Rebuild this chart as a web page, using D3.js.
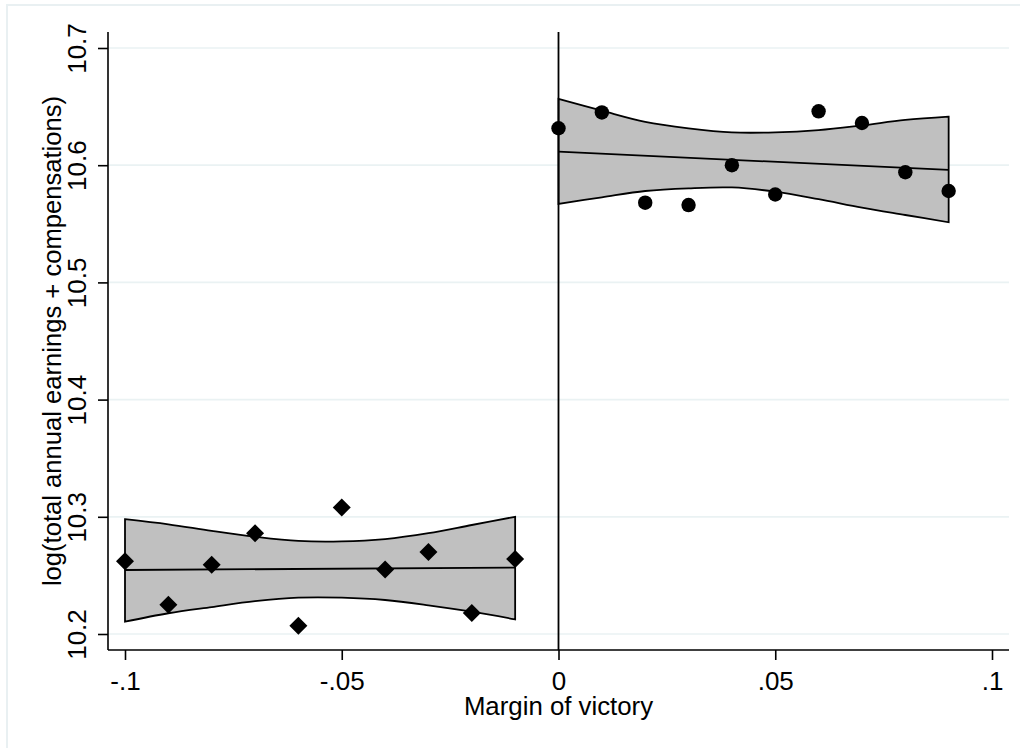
<!DOCTYPE html>
<html>
<head>
<meta charset="utf-8">
<script src="https://cdn.jsdelivr.net/npm/d3@7"></script>
<style>
  body { margin: 0; background: #fff; }
  text { font-family: "Liberation Sans", Arial, sans-serif; fill: #000; }
</style>
</head>
<body>
<div class="chart"></div>
<script>
// values
var xTicks = [-0.1, -0.05, 0, 0.05, 0.1];
var xTickLabels = ["-.1", "-.05", "0", ".05", ".1"];
var yTicks = [10.2, 10.3, 10.4, 10.5, 10.6, 10.7];
var yTickLabels = ["10.2", "10.3", "10.4", "10.5", "10.6", "10.7"];

// losers (diamonds), margin < 0
var leftX = [-0.1, -0.09, -0.08, -0.07, -0.06, -0.05, -0.04, -0.03, -0.02, -0.01];
var leftY = [10.262, 10.225, 10.259, 10.286, 10.207, 10.308, 10.255, 10.270, 10.218, 10.264];
var leftFit = [10.2546, 10.2566];           // at -0.1 and -0.01
var leftUpper = [10.298, 10.2936, 10.288, 10.283, 10.2794, 10.279, 10.281, 10.286, 10.293, 10.300];
var leftLower = [10.2105, 10.2177, 10.223, 10.228, 10.231, 10.231, 10.229, 10.2245, 10.219, 10.2125];

// winners (circles), margin >= 0
var rightX = [0, 0.01, 0.02, 0.03, 0.04, 0.05, 0.06, 0.07, 0.08, 0.09];
var rightY = [10.6315, 10.645, 10.568, 10.566, 10.600, 10.575, 10.646, 10.636, 10.594, 10.578];
var rightFit = [10.6115, 10.596];           // at 0 and 0.09
var rightUpper = [10.6565, 10.6465, 10.637, 10.6315, 10.628, 10.628, 10.630, 10.634, 10.6386, 10.6414];
var rightLower = [10.567, 10.5726, 10.578, 10.5803, 10.581, 10.5774, 10.571, 10.5638, 10.5575, 10.5513];

var xTitle = "Margin of victory";
var yTitle = "log(total annual earnings + compensations)";

(function() {
    var width = 1020, height = 748;
    var left = 108, right = 1009, top = 32, bottom = 650;

    var svg = d3.select(".chart")
                .append("svg")
                .attr("width", width)
                .attr("height", height);

    // outer frame of the graph
    svg.append("rect")
        .attr("x", 7).attr("y", 5)
        .attr("width", 1030).attr("height", 760)
        .attr("fill", "#fff")
        .attr("stroke", "#e9f0f2")
        .attr("stroke-width", 2);

    var x = d3.scaleLinear().domain([-0.1, 0.1]).range([125, 992]);
    var y = d3.scaleLinear().domain([10.2, 10.7]).range([634, 48]);

    // grid
    svg.append("g")
        .selectAll("line")
        .data(yTicks)
        .enter().append("line")
        .attr("x1", left).attr("x2", right)
        .attr("y1", function(d) { return y(d) })
        .attr("y2", function(d) { return y(d) })
        .attr("stroke", "#eaf2f3")
        .attr("stroke-width", 1.7);

    // y axis
    var yAxis = d3.axisLeft(y)
        .tickValues(yTicks)
        .tickFormat(function(d, i) { return yTickLabels[i] })
        .tickSize(10)
        .tickSizeOuter(0);
    var gy = svg.append("g")
        .attr("transform", "translate(" + left + ",0)")
        .call(yAxis);
    gy.select(".domain").remove();
    gy.append("line")
        .attr("x1", 0).attr("x2", 0)
        .attr("y1", top).attr("y2", bottom)
        .attr("stroke", "#000").attr("stroke-width", 1.6);
    gy.selectAll(".tick line").attr("stroke", "#000").attr("stroke-width", 1.6);
    gy.selectAll(".tick text")
        .attr("transform", "rotate(-90)")
        .attr("x", 0).attr("y", -22).attr("dy", 0)
        .attr("text-anchor", "middle")
        .attr("font-size", 26)
        .attr("font-family", null);

    // x axis
    var xAxis = d3.axisBottom(x)
        .tickValues(xTicks)
        .tickFormat(function(d, i) { return xTickLabels[i] })
        .tickSize(10)
        .tickSizeOuter(0);
    var gx = svg.append("g")
        .attr("transform", "translate(0," + bottom + ")")
        .call(xAxis);
    gx.select(".domain").remove();
    gx.append("line")
        .attr("x1", left).attr("x2", right)
        .attr("y1", 0).attr("y2", 0)
        .attr("stroke", "#000").attr("stroke-width", 1.6);
    gx.selectAll(".tick line").attr("stroke", "#000").attr("stroke-width", 1.6);
    gx.selectAll(".tick text")
        .attr("y", 40).attr("dy", 0)
        .attr("font-size", 26)
        .attr("font-family", null);

    // axis titles
    svg.append("text")
        .attr("x", (left + right) / 2)
        .attr("y", 715)
        .attr("text-anchor", "middle")
        .attr("font-size", 25.8)
        .text(xTitle);
    svg.append("text")
        .attr("transform", "translate(61," + ((top + bottom) / 2) + ") rotate(-90)")
        .attr("text-anchor", "middle")
        .attr("font-size", 25.6)
        .text(yTitle);

    // confidence bands + fitted lines
    function band(xs, up, lo) {
        var pts = xs.map(function(d, i) { return { x: d, up: up[i], lo: lo[i] } });
        var area = d3.area()
            .x(function(d) { return x(d.x) })
            .y0(function(d) { return y(d.lo) })
            .y1(function(d) { return y(d.up) })
            .curve(d3.curveCatmullRom.alpha(0.5));
        svg.append("path")
            .datum(pts)
            .attr("d", area)
            .attr("fill", "#c0c0c0")
            .attr("stroke", "#000")
            .attr("stroke-width", 1.8)
            .attr("stroke-linejoin", "miter");
    }
    band(leftX, leftUpper, leftLower);
    band(rightX, rightUpper, rightLower);

    var line = d3.line()
        .x(function(d) { return x(d[0]) })
        .y(function(d) { return y(d[1]) });
    svg.append("path")
        .attr("d", line([[leftX[0], leftFit[0]], [leftX[leftX.length - 1], leftFit[1]]]))
        .attr("stroke", "#000").attr("stroke-width", 1.8).attr("fill", "none");
    svg.append("path")
        .attr("d", line([[rightX[0], rightFit[0]], [rightX[rightX.length - 1], rightFit[1]]]))
        .attr("stroke", "#000").attr("stroke-width", 1.8).attr("fill", "none");

    // cutoff line at 0
    svg.append("line")
        .attr("x1", x(0)).attr("x2", x(0))
        .attr("y1", top).attr("y2", bottom)
        .attr("stroke", "#000").attr("stroke-width", 1.8);

    // markers
    var diamond = d3.symbol().type(d3.symbolSquare).size(162);
    svg.append("g")
        .selectAll("path")
        .data(leftX)
        .enter().append("path")
        .attr("d", diamond)
        .attr("transform", function(d, i) {
            return "translate(" + x(d) + "," + y(leftY[i]) + ") rotate(45)"
        })
        .attr("fill", "#000");

    svg.append("g")
        .selectAll("circle")
        .data(rightX)
        .enter().append("circle")
        .attr("cx", function(d) { return x(d) })
        .attr("cy", function(d, i) { return y(rightY[i]) })
        .attr("r", 7.2)
        .attr("fill", "#000");
})();
</script>
</body>
</html>
